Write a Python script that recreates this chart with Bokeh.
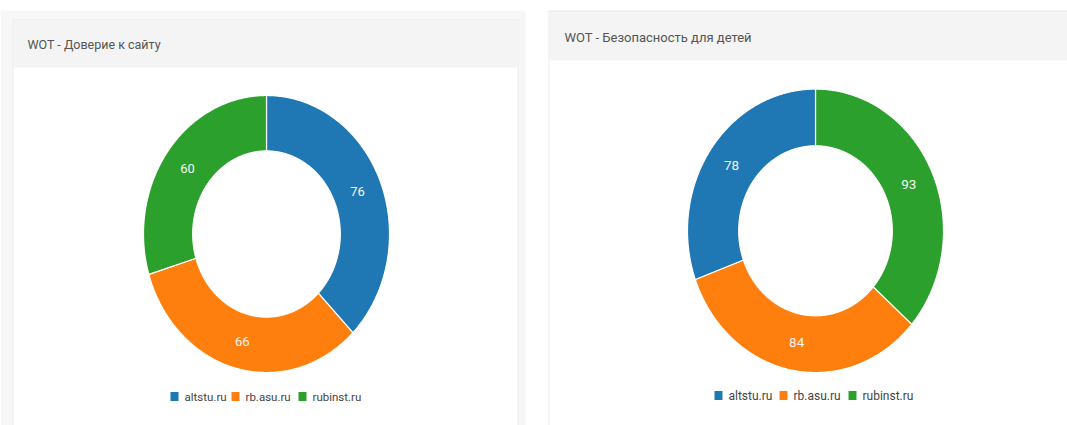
import numpy as np
from bokeh.plotting import figure
from bokeh.models import Range1d
from bokeh.core.properties import value
from bokeh.embed import file_html
from bokeh.resources import INLINE

# ---------------- data ----------------
categories = ["altstu.ru", "rb.asu.ru", "rubinst.ru"]
colors = ["#1f77b4", "#ff7f0e", "#2ca02c"]
trust_values = [76, 66, 60]          # WOT - Доверие к сайту
child_values = [78, 84, 93]          # WOT - Безопасность для детей
trust_order = [0, 1, 2]              # clockwise drawing order from 12 o'clock
child_order = [2, 1, 0]
titles = ["WOT - Доверие к сайту", "WOT - Безопасность для детей"]

FONT = "Roboto"

# page-pixel coordinates: x right, y down (y is negated for the data space)
W, H = 1067, 425
p = figure(width=W, height=H, x_range=Range1d(0, W), y_range=Range1d(-H, 0),
           output_backend="svg", toolbar_location=None, min_border=0,
           background_fill_color="white", border_fill_color="white")
p.axis.visible = False
p.grid.visible = False
p.outline_line_color = None


def box(l, r, t, b, fill, line=None, lw=1):
    p.quad(left=[l], right=[r], top=[-t], bottom=[-b], fill_color=fill,
           line_color=line, line_width=lw)


# ---------------- panels ----------------
box(0, 525, 10, 440, "#f7f7f7")                 # left outer background
box(12, 518, 19, 440, "#ececec")               # left shadow
box(13, 517, 20, 440, "white")
box(13, 517, 20, 67, "#f4f4f4")

box(548, 1090, 10, 440, "#ececec")             # right shadow
box(549, 1090, 12, 440, "white")
box(549, 1090, 12, 60, "#f4f4f4")

panels = [
    dict(title=titles[0], tx=27, ty=44, tsize="12.5px",
         vals=trust_values, order=trust_order, cx=266, cy=233.5, rx=123, ry=138.5,
         lsize="13px", leg_x=170, leg_y=396, leg_off=[0, 61, 128], leg_size="11.5px"),
    dict(title=titles[1], tx=564, ty=37, tsize="13px",
         vals=child_values, order=child_order, cx=815, cy=230.3, rx=128, ry=141.7,
         lsize="13.5px", leg_x=714, leg_y=395, leg_off=[0, 65, 134], leg_size="12px"),
]
INNER = 0.6

for pn in panels:
    p.text(x=[pn["tx"]], y=[-pn["ty"]], text=[pn["title"]], text_font=value(FONT),
           text_font_size=pn["tsize"], text_color="#555555", text_baseline="middle",
           text_align="left")

    vals = pn["vals"]
    total = float(sum(vals))
    cx, cy, rx, ry = pn["cx"], pn["cy"], pn["rx"], pn["ry"]
    start = 0.0
    lx, ly, lt = [], [], []
    for i in pn["order"]:
        end = start + vals[i] / total * 2 * np.pi
        t = np.linspace(start, end, 240)
        xo = cx + rx * np.sin(t)
        yo = -(cy - ry * np.cos(t))
        xi = cx + INNER * rx * np.sin(t[::-1])
        yi = -(cy - INNER * ry * np.cos(t[::-1]))
        p.patch(x=np.concatenate([xo, xi]), y=np.concatenate([yo, yi]),
                fill_color=colors[i], line_color="white", line_width=1.2)
        mid = (start + end) / 2
        rm = (1 + INNER) / 2
        lx.append(cx + rm * rx * np.sin(mid))
        ly.append(-(cy - rm * ry * np.cos(mid)))
        lt.append(str(vals[i]))
        start = end
    p.text(x=lx, y=ly, text=lt, text_font=value(FONT), text_font_size=pn["lsize"],
           text_color="#f4f4f4", text_align="center", text_baseline="middle")

    # legend
    for k, cat in enumerate(categories):
        x0 = pn["leg_x"] + pn["leg_off"][k]
        box(x0, x0 + 8, pn["leg_y"] - 4.5, pn["leg_y"] + 4.5, colors[k])
        p.text(x=[x0 + 14], y=[-pn["leg_y"]], text=[cat], text_font=value(FONT),
               text_font_size=pn["leg_size"], text_color="#444444",
               text_baseline="middle", text_align="left")

open("out.html", "w").write(file_html(p, INLINE))
